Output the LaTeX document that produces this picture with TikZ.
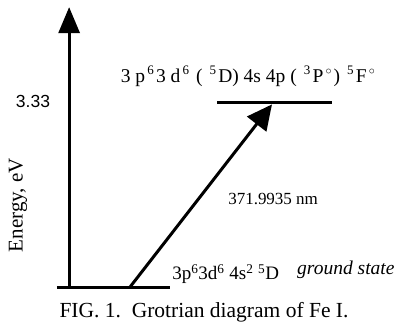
\documentclass[tikz,border=0pt]{standalone}
\usepackage{fontspec}
\setmainfont{Liberation Serif}
\newfontfamily\arialfont{Liberation Sans}
\usepackage{tikz}
\usetikzlibrary{arrows.meta, positioning, calc}
\newcommand{\hi}[1]{\raisebox{0.85ex}{\fontsize{13}{13}\selectfont\,#1\,}}

\begin{document}
\begin{tikzpicture}[
  font=\fontsize{19}{22}\selectfont,
  lvl/.style={line width=3pt},
  axisarr/.style={-{Triangle[length=26pt,width=21pt]}, line width=3pt},
  trans/.style={-{Triangle[length=25pt,width=24pt]}, line width=3pt},
  lbl/.style={inner sep=0pt}
]
  \useasboundingbox (0,0) rectangle (13.99,11.53);
  % axis and levels
  \coordinate (orig) at (2.43,1.44);
  \coordinate (top) at (2.43,11.28);
  \coordinate (gndL) at (2.0,1.44);
  \coordinate (gndR) at (5.98,1.44);
  \coordinate (upL) at (7.63,7.91);
  \coordinate (upR) at (11.67,7.91);
  \coordinate (from) at (4.57,1.44);
  \coordinate (to) at (9.56,7.86);
  \draw[axisarr] (orig) -- (top);
  \draw[lvl] (gndL) -- (gndR);
  \draw[lvl] (upL) -- (upR);
  \draw[trans] (from) -- (to);
  % labels
  \node[lbl, font=\arialfont\fontsize{17.5}{20}\selectfont] (en) at (1.16,7.98) {3.33};
  \node[lbl, rotate=90, font=\fontsize{21}{24}\selectfont] (axlab) at (0.63,4.32) {Energy, eV};
  \node[lbl, font=\fontsize{19.5}{22}\selectfont] (uplab) at (8.75,8.85) {3 p\hi{6}3 d\hi{6} ( \hi{5}D) 4s 4p ( \hi{3}P\hi{$\circ$}) \hi{5}F\hi{$\circ$}};
  \node[lbl, anchor=west] (gndlab) at (6.05,1.90) {3p\textsuperscript{6}3d\textsuperscript{6} 4s\textsuperscript{2} \textsuperscript{5}D};
  \node[lbl, anchor=west, font=\itshape\fontsize{19.5}{22}\selectfont] (gs) at (10.44,2.04) {ground state};
  \node[lbl, font=\fontsize{17}{20}\selectfont] (wl) at (9.6,4.53) {371.9935 nm};
  \node[lbl, font=\fontsize{21.5}{24}\selectfont] (cap) at (7.17,0.55) {FIG. 1.\ \ Grotrian diagram of Fe I.};
\end{tikzpicture}
\end{document}
